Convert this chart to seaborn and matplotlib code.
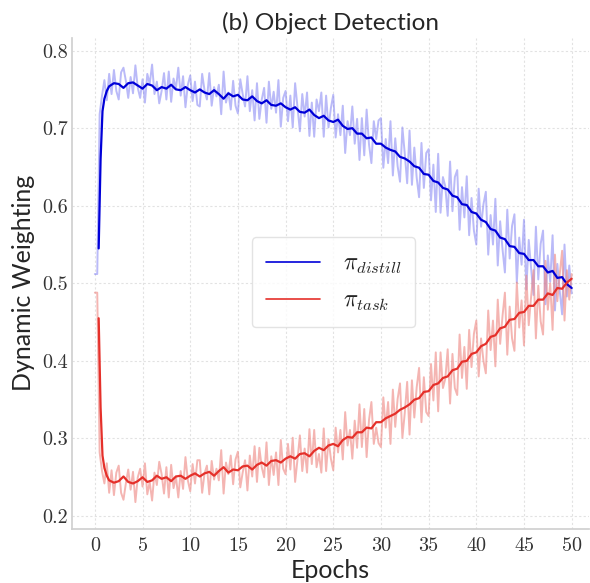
import numpy as np
import pandas as pd
import matplotlib
matplotlib.use("Agg")
import matplotlib.pyplot as plt
import seaborn as sns

# raw weights, sampled every 0.25 epoch
epochs = np.arange(0, 50.01, 0.25)

pi_distill_raw = [
    0.512, 0.512, 0.718, 0.742,
    0.762, 0.736, 0.770, 0.744,
    0.775, 0.748, 0.737, 0.772,
    0.778, 0.761, 0.739, 0.766,
    0.745, 0.781, 0.752, 0.739,
    0.763, 0.733, 0.770, 0.757,
    0.782, 0.744, 0.760, 0.732,
    0.748, 0.771, 0.737, 0.773,
    0.734, 0.764, 0.751, 0.778,
    0.742, 0.767, 0.727, 0.756,
    0.768, 0.735, 0.760, 0.730,
    0.728, 0.770, 0.749, 0.737,
    0.771, 0.729, 0.753, 0.741,
    0.756, 0.718, 0.773, 0.733,
    0.746, 0.724, 0.761, 0.729,
    0.719, 0.763, 0.744, 0.728,
    0.767, 0.722, 0.749, 0.710,
    0.758, 0.712, 0.737, 0.752,
    0.707, 0.760, 0.725, 0.747,
    0.720, 0.762, 0.702, 0.739,
    0.748, 0.709, 0.742, 0.701,
    0.758, 0.727, 0.696, 0.744,
    0.715, 0.746, 0.690, 0.733,
    0.689, 0.737, 0.722, 0.746,
    0.689, 0.742, 0.701, 0.726,
    0.743, 0.688, 0.718, 0.691,
    0.729, 0.668, 0.709, 0.691,
    0.728, 0.680, 0.712, 0.659,
    0.713, 0.665, 0.724, 0.679,
    0.655, 0.709, 0.686, 0.710,
    0.713, 0.649, 0.686, 0.655,
    0.709, 0.639, 0.687, 0.651,
    0.631, 0.701, 0.667, 0.629,
    0.697, 0.627, 0.675, 0.636,
    0.611, 0.681, 0.623, 0.668,
    0.673, 0.607, 0.653, 0.592,
    0.667, 0.591, 0.637, 0.625,
    0.587, 0.657, 0.593, 0.637,
    0.646, 0.569, 0.624, 0.585,
    0.638, 0.562, 0.610, 0.568,
    0.550, 0.622, 0.573, 0.602,
    0.618, 0.537, 0.588, 0.550,
    0.609, 0.523, 0.580, 0.544,
    0.514, 0.595, 0.532, 0.574,
    0.589, 0.501, 0.559, 0.524,
    0.582, 0.492, 0.556, 0.519,
    0.485, 0.573, 0.505, 0.551,
    0.568, 0.473, 0.536, 0.502,
    0.562, 0.465, 0.525, 0.490,
    0.460, 0.550, 0.483, 0.523,
    0.487,
]

pi_task_raw = [
    0.488, 0.488, 0.282, 0.258,
    0.242, 0.268, 0.230, 0.259,
    0.227, 0.256, 0.265, 0.230,
    0.221, 0.242, 0.260, 0.234,
    0.257, 0.218, 0.250, 0.261,
    0.238, 0.268, 0.228, 0.244,
    0.220, 0.256, 0.240, 0.270,
    0.254, 0.229, 0.263, 0.224,
    0.266, 0.236, 0.251, 0.224,
    0.258, 0.235, 0.276, 0.246,
    0.232, 0.267, 0.242, 0.272,
    0.272, 0.230, 0.255, 0.265,
    0.228, 0.271, 0.247, 0.261,
    0.246, 0.285, 0.229, 0.269,
    0.254, 0.278, 0.241, 0.273,
    0.283, 0.237, 0.256, 0.272,
    0.233, 0.278, 0.251, 0.290,
    0.244, 0.288, 0.263, 0.250,
    0.295, 0.240, 0.277, 0.253,
    0.282, 0.240, 0.298, 0.261,
    0.254, 0.293, 0.260, 0.301,
    0.244, 0.273, 0.304, 0.258,
    0.287, 0.256, 0.312, 0.267,
    0.311, 0.263, 0.280, 0.256,
    0.313, 0.258, 0.299, 0.274,
    0.259, 0.314, 0.282, 0.311,
    0.273, 0.334, 0.291, 0.311,
    0.274, 0.323, 0.288, 0.344,
    0.289, 0.338, 0.276, 0.324,
    0.347, 0.293, 0.314, 0.294,
    0.289, 0.353, 0.314, 0.347,
    0.293, 0.363, 0.315, 0.351,
    0.371, 0.301, 0.333, 0.373,
    0.305, 0.375, 0.327, 0.366,
    0.391, 0.321, 0.379, 0.334,
    0.329, 0.396, 0.349, 0.411,
    0.335, 0.411, 0.365, 0.377,
    0.415, 0.345, 0.409, 0.365,
    0.356, 0.434, 0.378, 0.418,
    0.364, 0.440, 0.392, 0.435,
    0.452, 0.380, 0.429, 0.400,
    0.384, 0.465, 0.414, 0.452,
    0.393, 0.479, 0.422, 0.458,
    0.488, 0.408, 0.470, 0.429,
    0.413, 0.501, 0.443, 0.478,
    0.420, 0.510, 0.446, 0.483,
    0.517, 0.429, 0.497, 0.451,
    0.434, 0.529, 0.466, 0.500,
    0.440, 0.537, 0.477, 0.512,
    0.542, 0.452, 0.517, 0.479,
    0.512,
]

# smoothed curves
smooth_epochs = np.concatenate([[0.4, 0.6, 0.8, 1.0, 1.25, 1.5], np.arange(2, 50.01, 0.5)])

pi_distill_smooth = [
    0.545, 0.660, 0.722, 0.738, 0.748, 0.754,
    0.758, 0.757, 0.752, 0.758, 0.759, 0.755, 0.751, 0.757, 0.755, 0.749,
    0.753, 0.751, 0.756, 0.750, 0.749, 0.753, 0.749, 0.746, 0.750, 0.746,
    0.744, 0.749, 0.744, 0.738, 0.745, 0.741, 0.743, 0.737, 0.736, 0.741,
    0.735, 0.732, 0.736, 0.730, 0.729, 0.732, 0.727, 0.724, 0.727, 0.721,
    0.720, 0.724, 0.717, 0.713, 0.716, 0.710, 0.708, 0.711, 0.703, 0.699,
    0.700, 0.693, 0.693, 0.687, 0.688, 0.680, 0.680, 0.675, 0.672, 0.670,
    0.663, 0.661, 0.657, 0.651, 0.649, 0.641, 0.640, 0.632, 0.630, 0.623,
    0.621, 0.613, 0.611, 0.602, 0.601, 0.592, 0.590, 0.582, 0.579, 0.570,
    0.568, 0.559, 0.557, 0.548, 0.547, 0.539, 0.538, 0.530, 0.530, 0.522,
    0.522, 0.514, 0.516, 0.507, 0.508, 0.499, 0.494,
]

pi_task_smooth = [
    0.455, 0.340, 0.278, 0.262, 0.252, 0.246,
    0.243, 0.245, 0.251, 0.244, 0.242, 0.245, 0.250, 0.244, 0.246, 0.252,
    0.248, 0.250, 0.245, 0.251, 0.252, 0.248, 0.252, 0.255, 0.251, 0.255,
    0.257, 0.252, 0.258, 0.263, 0.256, 0.260, 0.259, 0.264, 0.265, 0.260,
    0.266, 0.269, 0.265, 0.271, 0.272, 0.269, 0.274, 0.277, 0.274, 0.280,
    0.281, 0.277, 0.284, 0.288, 0.285, 0.291, 0.293, 0.290, 0.298, 0.302,
    0.301, 0.308, 0.308, 0.314, 0.313, 0.321, 0.321, 0.326, 0.329, 0.332,
    0.337, 0.340, 0.344, 0.350, 0.352, 0.360, 0.361, 0.369, 0.371, 0.378,
    0.380, 0.388, 0.390, 0.399, 0.400, 0.409, 0.411, 0.419, 0.422, 0.431,
    0.433, 0.442, 0.444, 0.453, 0.454, 0.462, 0.463, 0.471, 0.471, 0.479,
    0.479, 0.487, 0.485, 0.494, 0.493, 0.501, 0.506,
]

xticks = list(range(0, 51, 5))
yticks = [0.2, 0.3, 0.4, 0.5, 0.6, 0.7, 0.8]

raw = pd.DataFrame({"epoch": epochs, "distill": pi_distill_raw, "task": pi_task_raw})
sm = pd.DataFrame({"epoch": smooth_epochs, "distill": pi_distill_smooth, "task": pi_task_smooth})

sns.set_theme(style="whitegrid", rc={
    "grid.linestyle": (0, (2, 2)),
    "grid.color": "#e2e2e2",
    "grid.linewidth": 0.8,
    "axes.edgecolor": "#d0d0d0",
})
plt.rcParams["mathtext.fontset"] = "cm"

fig = plt.figure(figsize=(5.9, 5.83), dpi=100)
ax = fig.add_axes([0.122, 0.093, 0.876, 0.842])

blue = "#0000d8"
red = "#e5302a"
sns.lineplot(data=raw, x="epoch", y="distill", color="#7676f2", alpha=0.5, linewidth=1.4, ax=ax)
sns.lineplot(data=raw, x="epoch", y="task", color="#ee8580", alpha=0.6, linewidth=1.4, ax=ax)
sns.lineplot(data=sm, x="epoch", y="distill", color=blue, linewidth=1.6, ax=ax,
             label=r"$\pi_{distill}$")
sns.lineplot(data=sm, x="epoch", y="task", color=red, linewidth=1.6, ax=ax,
             label=r"$\pi_{task}$")

ax.set_xlim(-2.4, 51.8)
ax.set_ylim(0.1836, 0.8164)
ax.set_xticks(xticks)
ax.set_yticks(yticks)
ax.set_xticklabels([str(t) for t in xticks], fontfamily="cmr10", fontsize=14.5)
ax.set_yticklabels([f"{t:.1f}" for t in yticks], fontfamily="cmr10", fontsize=14.5)
ax.tick_params(axis="x", colors="#333333", length=0, pad=6)
ax.tick_params(axis="y", colors="#333333", length=0, pad=3)
sns.despine(ax=ax)

ax.set_title("(b) Object Detection", fontfamily="Lato", fontsize=17.5, color="#262626", pad=6)
ax.set_xlabel("Epochs", fontfamily="Lato", fontsize=18, color="#262626", labelpad=3)
ax.set_ylabel("Dynamic Weighting", fontfamily="Lato", fontsize=18, color="#262626", labelpad=5)

leg = ax.legend(loc="center", bbox_to_anchor=(0.506, 0.502), fontsize=17, frameon=True,
                handlelength=2.3, borderpad=0.6, labelspacing=0.5, handletextpad=0.95,
                borderaxespad=0)
leg.get_frame().set_edgecolor("#dddddd")
for line in leg.get_lines():
    line.set_linewidth(1.2)

fig.savefig("out.png", dpi=100)
